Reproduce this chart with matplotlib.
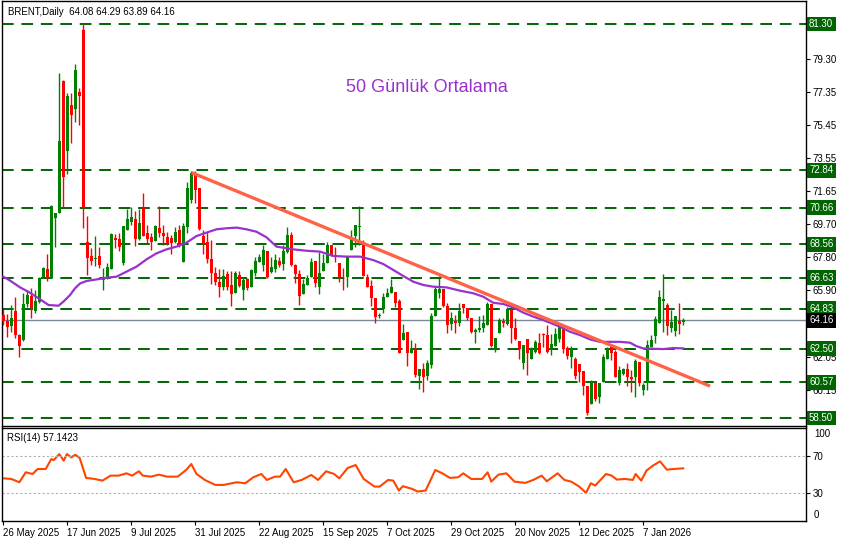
import matplotlib
matplotlib.use("Agg")
import matplotlib.pyplot as plt

# daily OHLC (bar 0 = 26 May 2025)
opens = [64.46, 64.13, 63.84, 64.69, 63.30, 63.01, 65.10, 65.58, 64.71, 65.23,
         66.62, 67.12, 66.62, 70.09, 70.38, 78.00, 73.97, 76.61, 76.36, 77.38,
         80.95, 68.70, 67.87, 67.68, 67.87, 66.48, 66.58, 67.10, 68.89, 68.84,
         67.49, 69.38, 69.86, 70.00, 68.84, 70.63, 69.19, 68.96, 68.76, 69.48,
         69.19, 68.96, 68.90, 68.71, 69.38, 67.55, 69.53, 71.12, 72.70, 71.79,
         69.03, 68.71, 67.68, 66.87, 66.39, 66.06, 66.83, 66.20, 65.75, 66.78,
         65.91, 66.52, 66.06, 66.91, 67.55, 67.35, 68.18, 66.97, 67.10, 67.60,
         67.41, 68.12, 69.09, 67.36, 66.83, 65.68, 66.20, 66.68, 67.61, 66.10,
         67.03, 67.45, 68.51, 67.88, 67.49, 66.62, 66.64, 68.22, 69.03, 69.57,
         68.61, 66.68, 66.14, 65.43, 64.40, 64.79, 65.48, 65.75, 65.81, 65.29,
         63.01, 63.50, 62.28, 62.47, 60.93, 61.32, 60.93, 61.57, 64.40, 65.75,
         65.95, 64.98, 63.94, 64.13, 64.02, 65.10, 64.85, 64.27, 63.50, 63.59,
         63.69, 63.88, 65.10, 62.47, 63.44, 64.13, 63.94, 64.79, 63.69, 62.98,
         61.70, 63.05, 61.90, 62.34, 62.86, 63.36, 63.30, 62.47, 62.68, 63.10,
         63.69, 62.53, 62.05, 61.89, 61.62, 61.24, 60.35, 59.31, 60.54, 59.73,
         60.56, 61.89, 62.59, 62.33, 60.50, 61.04, 61.31, 60.85, 60.85, 61.76,
         60.12, 60.54, 62.59, 63.24, 64.01, 65.29, 65.04, 63.69, 63.55, 64.13,
         64.08]
highs = [64.79, 64.50, 65.04, 65.52, 63.35, 65.72, 65.91, 66.00, 65.91, 66.68,
         67.26, 67.99, 70.83, 70.38, 78.48, 78.06, 77.32, 77.32, 78.98, 77.58,
         81.38, 70.19, 68.36, 69.03, 68.37, 67.16, 67.49, 69.22, 69.15, 69.18,
         69.61, 70.58, 70.73, 70.50, 70.58, 71.54, 69.67, 69.19, 69.67, 70.77,
         69.67, 69.28, 69.09, 69.57, 69.67, 69.80, 72.18, 72.81, 72.81, 71.79,
         69.38, 69.28, 68.80, 67.26, 67.10, 67.10, 67.03, 67.03, 67.03, 67.03,
         66.68, 66.58, 67.10, 67.80, 67.99, 68.51, 68.18, 67.80, 68.02, 67.83,
         68.51, 69.57, 69.28, 67.40, 67.07, 66.53, 66.78, 67.74, 67.61, 68.13,
         67.99, 68.71, 68.51, 68.41, 67.49, 67.16, 67.84, 69.38, 69.67, 70.77,
         68.80, 66.83, 66.49, 65.43, 64.56, 65.75, 66.00, 66.52, 65.81, 65.40,
         63.94, 63.50, 63.01, 62.82, 61.32, 61.66, 61.86, 64.60, 66.10, 66.72,
         65.95, 65.14, 64.65, 64.46, 65.14, 65.10, 64.85, 64.27, 63.70, 64.40,
         64.46, 65.23, 65.10, 63.11, 64.27, 64.27, 64.94, 64.79, 64.27, 62.98,
         62.72, 63.05, 62.63, 63.01, 63.44, 63.40, 63.88, 63.36, 63.69, 64.00,
         63.82, 62.66, 62.66, 62.05, 61.62, 61.24, 60.35, 60.73, 60.66, 60.54,
         62.20, 62.59, 62.72, 62.43, 61.51, 61.37, 61.66, 61.27, 61.89, 61.76,
         60.54, 63.01, 63.30, 64.40, 65.90, 66.83, 65.17, 64.75, 64.40, 65.17,
         64.29]
lows = [63.88, 63.21, 63.50, 63.11, 62.05, 62.98, 64.94, 64.27, 64.56, 65.14,
        66.58, 66.45, 66.62, 68.38, 70.38, 70.63, 72.62, 74.39, 75.65, 75.45,
        69.47, 66.77, 67.35, 67.29, 67.16, 65.90, 66.52, 67.10, 68.32, 68.18,
        67.35, 69.38, 69.66, 68.45, 68.80, 69.03, 68.57, 68.22, 68.76, 68.96,
        68.51, 68.51, 67.99, 68.65, 68.42, 67.55, 69.19, 70.92, 70.92, 69.38,
        67.99, 67.45, 66.26, 66.20, 65.52, 65.90, 65.91, 64.98, 65.75, 66.06,
        65.33, 65.91, 66.06, 66.72, 67.55, 67.03, 66.58, 66.87, 66.96, 67.25,
        67.07, 68.03, 67.30, 66.33, 65.04, 65.68, 66.20, 66.68, 66.10, 65.68,
        67.03, 67.45, 67.88, 67.55, 66.39, 65.91, 66.10, 68.22, 68.41, 68.51,
        66.72, 66.10, 64.98, 63.98, 64.27, 64.56, 65.48, 65.75, 64.90, 62.28,
        63.01, 61.51, 62.28, 60.85, 60.16, 60.02, 60.70, 61.37, 64.40, 65.42,
        64.94, 63.40, 63.59, 63.44, 63.82, 64.56, 64.17, 63.40, 62.82, 63.50,
        63.50, 63.88, 62.63, 62.34, 63.44, 63.78, 63.88, 62.86, 63.01, 61.90,
        61.32, 60.99, 61.90, 62.24, 62.20, 62.63, 62.28, 62.14, 62.66, 62.90,
        62.28, 61.89, 61.37, 60.77, 60.60, 59.83, 58.67, 59.31, 59.50, 59.38,
        60.56, 61.89, 61.85, 60.85, 60.41, 60.99, 60.35, 60.02, 59.73, 60.35,
        59.83, 60.12, 62.59, 62.82, 64.01, 63.49, 63.30, 63.49, 63.24, 63.36,
        63.89]
closes = [64.13, 63.75, 64.27, 63.30, 62.67, 65.10, 65.62, 64.85, 65.29, 66.62,
          67.20, 66.58, 70.77, 70.34, 74.55, 72.46, 77.13, 76.03, 78.64, 77.13,
          70.63, 67.74, 67.60, 67.77, 67.35, 66.52, 67.22, 69.15, 68.80, 68.41,
          69.61, 69.99, 70.15, 68.84, 69.80, 69.03, 68.84, 68.71, 69.61, 69.23,
          69.03, 68.65, 68.65, 69.28, 68.51, 69.61, 71.79, 72.70, 71.69, 69.42,
          68.57, 67.68, 66.91, 66.39, 66.10, 66.72, 66.06, 65.68, 66.91, 66.14,
          66.49, 66.00, 67.07, 67.61, 67.80, 68.22, 66.64, 67.22, 67.64, 67.35,
          68.18, 69.09, 67.35, 66.83, 65.56, 66.26, 66.58, 67.55, 66.29, 66.87,
          67.45, 68.51, 67.93, 67.80, 66.64, 66.58, 67.84, 68.99, 69.67, 69.61,
          66.72, 66.10, 65.43, 64.33, 64.45, 65.48, 65.75, 66.10, 65.17, 62.28,
          63.40, 62.28, 62.47, 60.99, 61.32, 60.89, 61.66, 64.40, 65.95, 65.95,
          64.98, 63.88, 64.27, 64.02, 64.71, 64.85, 64.27, 63.50, 63.59, 63.69,
          63.98, 65.10, 62.67, 63.11, 64.17, 64.02, 64.79, 63.69, 63.05, 62.47,
          62.72, 62.24, 62.47, 62.92, 62.28, 63.33, 62.33, 62.80, 63.38, 63.85,
          62.47, 62.08, 62.53, 60.93, 61.18, 60.35, 58.81, 60.66, 59.63, 60.50,
          62.05, 62.47, 62.24, 60.85, 61.27, 61.31, 60.85, 60.75, 61.82, 60.54,
          60.41, 62.72, 63.01, 64.26, 65.48, 65.36, 63.82, 64.07, 64.40, 63.94,
          64.16]

# 50-day moving average, sampled off the purple line
ma_bars = [0, 1.7, 4.2, 6.7, 9.2, 11.3, 13.8, 15, 16.7, 17.9, 19.2, 20.8, 23.3,
           25.8, 28.3, 30.8, 33.3, 35.8, 38.3, 40.8, 43.3, 45.8, 48.3, 50.8,
           53.3, 55.8, 58.3, 60.8, 63.3, 65.8, 68.3, 72.5, 75.8, 79.2, 82.5,
           85.8, 89.2, 92.5, 95, 97.5, 100, 102.5, 105, 107.5, 110.8, 114.2,
           117.5, 120, 122.5, 125, 127.5, 130, 132.5, 135, 137.5, 139.2, 141.7,
           144.2, 146.7, 149.2, 151.7, 154.2, 156.7, 158.3, 160, 162.5, 165,
           167.5, 170]
ma_vals = [66.68, 66.45, 66.06, 65.75, 65.37, 65.04, 65.00, 65.23, 65.62, 66.00,
           66.29, 66.43, 66.52, 66.62, 66.68, 66.97, 67.26, 67.68, 68.03, 68.26,
           68.42, 68.65, 69.03, 69.23, 69.42, 69.48, 69.52, 69.42, 69.28, 68.96,
           68.42, 68.26, 68.18, 68.13, 67.88, 67.84, 67.84, 67.64, 67.41, 67.07,
           66.72, 66.39, 66.20, 66.10, 66.06, 65.87, 65.72, 65.52, 65.17, 65.10,
           64.90, 64.60, 64.37, 64.17, 63.94, 63.78, 63.49, 63.30, 63.05, 62.91,
           62.91, 62.91, 62.86, 62.66, 62.53, 62.51, 62.49, 62.55, 62.53]

# RSI(14), sampled off the lower panel
rsi_bars = [0, 2, 4, 5.6, 7.3, 8.6, 10.6, 12, 12.6, 14, 15.1, 15.9, 17, 18,
            19.1, 20.7, 22.8, 24.8, 26.8, 28.8, 30.8, 32.2, 33.9, 34.9, 36.9,
            38.9, 40.9, 43.6, 45.7, 47, 48.3, 50.4, 53, 55.1, 57.1, 58.4, 60.5,
            62.5, 64.5, 65.9, 67.9, 69.2, 70.6, 72.6, 74.6, 77, 78.7, 80.7,
            82.7, 84, 86.1, 88.1, 90.1, 92.8, 94.1, 96.2, 97.5, 98.9, 99.9,
            102.2, 103.6, 105.6, 108, 109.6, 111.7, 113.7, 115, 117, 119.7,
            121.1, 122, 123.8, 125.8, 127.8, 130.5, 132.5, 134.6, 135.9, 138.6,
            140.3, 142, 144, 145.7, 146.9, 148, 150.7, 152.1, 153.4, 155.4,
            157.4, 158.1, 159.5, 160.8, 162.4, 164.2, 165.9, 167.6, 170]
rsi_vals = [46.3, 45.6, 42.0, 52.8, 51.0, 56.4, 56.4, 67.2, 66.1, 72.6, 65.4,
            72.6, 69.0, 71.9, 68.3, 46.7, 45.6, 43.8, 49.2, 49.2, 51.7, 49.2,
            53.9, 49.2, 48.1, 50.3, 48.1, 48.1, 55.3, 61.8, 51.0, 44.5, 39.1,
            39.1, 40.9, 42.0, 40.9, 47.4, 51.0, 44.5, 48.1, 48.1, 56.4, 42.0,
            44.5, 49.9, 44.5, 53.9, 51.0, 46.3, 57.5, 60.7, 45.6, 37.3, 37.3,
            44.5, 43.8, 33.0, 37.7, 34.8, 31.9, 33.0, 55.3, 52.1, 46.7, 47.4,
            51.7, 45.6, 45.6, 52.8, 42.7, 50.3, 51.7, 42.7, 41.3, 44.5, 49.2,
            43.1, 51.7, 44.5, 42.7, 37.3, 30.5, 40.9, 38.4, 51.0, 49.2, 44.9,
            45.6, 44.5, 51.0, 43.8, 54.6, 60.0, 64.7, 55.7, 56.4, 57.1]

levels = [81.30, 72.84, 70.66, 68.56, 66.63, 64.83, 62.50, 60.57, 58.50]
last_price = 64.16
price_ticks = [81.25, 79.30, 77.35, 75.45, 73.55, 71.65, 69.70, 67.80, 65.90,
               64.00, 62.05, 60.15, 58.25]
hidden_ticks = [81.25, 64.00, 58.25]  # covered by the level boxes
date_labels = ["26 May 2025", "17 Jun 2025", "9 Jul 2025", "31 Jul 2025",
               "22 Aug 2025", "15 Sep 2025", "7 Oct 2025", "29 Oct 2025",
               "20 Nov 2025", "12 Dec 2025", "7 Jan 2026"]

plt.rcParams['font.family'] = ['Liberation Sans', 'DejaVu Sans']
W, H = 846, 542
fig = plt.figure(figsize=(W / 100, H / 100), dpi=100)
ax = fig.add_axes([2 / W, (H - 426) / H, 804 / W, 425.5 / H])
ax2 = fig.add_axes([2 / W, (H - 521) / H, 804 / W, 93.5 / H])

GREEN = '#008000'
RED = '#ff0000'
n = len(closes)
xs = list(range(n))
cols = [GREEN if c >= o else RED for o, c in zip(opens, closes)]

# candles
ax.vlines(xs, lows, highs, colors=cols, lw=1.0, zorder=3)
bottoms = [min(o, c) for o, c in zip(opens, closes)]
heights = [max(abs(c - o), 0.05) for o, c in zip(opens, closes)]
ax.bar(xs, heights, bottom=bottoms, width=0.72, color=cols, lw=0, zorder=4)

# horizontal levels
for lv in levels:
    ax.axhline(lv, color='#006400', lw=1.4, ls=(0, (6, 4)), zorder=1)
ax.axhline(last_price, color='#778899', lw=1.0, zorder=1)

# moving average and trend line
ax.plot(ma_bars, ma_vals, color='#9932cc', lw=1.6, zorder=5)
ax.plot([47.1, 176.7], [72.70, 60.35], color='#ff6347', lw=2.4, zorder=6,
        solid_capstyle='butt')

ax.text(105.9, 77.6, "50 Günlük Ortalama", color='#9932cc', fontsize=13,
        ha='center', va='center')
ax.text(0.007, 0.985, "BRENT,Daily  64.08 64.29 63.89 64.16", transform=ax.transAxes,
        fontsize=7, ha='left', va='top', color='black')

ax.set_xlim(-0.33, 200.7)
ax.set_ylim(58.04, 82.66)
ax.set_xticks([])
ax.yaxis.tick_right()
ax.set_yticks(price_ticks)
ax.set_yticklabels(["" if t in hidden_ticks else "%.2f" % t for t in price_ticks])
ax.tick_params(axis='y', labelsize=7, length=3, pad=2, width=0.8)

ytr = ax.get_yaxis_transform()
for lv in levels:
    ax.text(1.0 + 3 / 804, lv, "%.2f" % lv, transform=ytr, fontsize=7, color='white',
            ha='left', va='center', clip_on=False, zorder=10,
            bbox=dict(boxstyle='square,pad=0.25', fc='#006400', ec='none'))
ax.text(1.0 + 3 / 804, last_price, "%.2f" % last_price, transform=ytr, fontsize=7,
        color='white', ha='left', va='center', clip_on=False, zorder=10,
        bbox=dict(boxstyle='square,pad=0.25', fc='black', ec='none'))

# RSI panel
ax2.plot(rsi_bars, rsi_vals, color='#ff4500', lw=1.5)
ax2.axhline(70, color='#b0b0b0', lw=0.8, ls=(0, (2, 2)))
ax2.axhline(30, color='#b0b0b0', lw=0.8, ls=(0, (2, 2)))
ax2.set_xlim(-0.33, 200.7)
ax2.set_ylim(-0.1, 101.5)
ax2.yaxis.tick_right()
ax2.set_yticks([70, 30])
ax2.tick_params(axis='y', labelsize=7, length=3, pad=2, width=0.8)
ytr2 = ax2.get_yaxis_transform()
ax2.text(1.0 + 8 / 804, 100, "100", transform=ytr2, fontsize=7, ha='left', va='top')
ax2.text(1.0 + 8 / 804, 1, "0", transform=ytr2, fontsize=7, ha='left', va='bottom')
ax2.text(0.006, 0.94, "RSI(14) 57.1423", transform=ax2.transAxes, fontsize=7,
         ha='left', va='top')

ax2.set_xticks(range(0, 16 * len(date_labels), 16))
ax2.set_xticklabels(date_labels, ha='left')
ax2.tick_params(axis='x', labelsize=7, length=3, pad=2, width=0.8)

for a in (ax, ax2):
    for s in a.spines.values():
        s.set_linewidth(1.0)
        s.set_color('black')

fig.savefig("out.png", dpi=100)
